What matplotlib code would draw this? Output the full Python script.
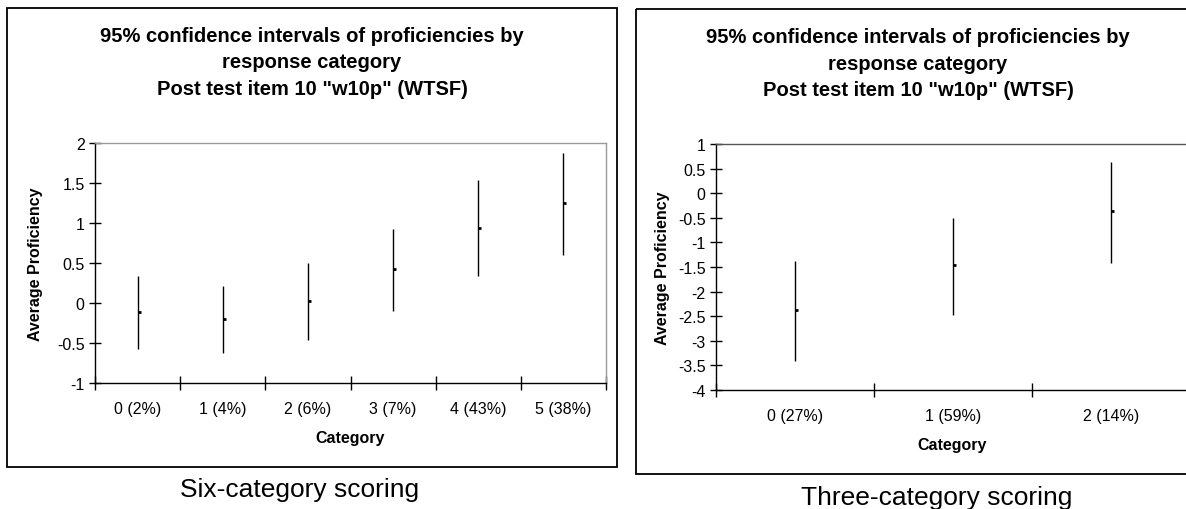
import matplotlib
matplotlib.use("Agg")
import matplotlib.pyplot as plt
from matplotlib.patches import Rectangle
from matplotlib.markers import TICKRIGHT
from matplotlib.ticker import FixedLocator, FuncFormatter

plt.rcParams['font.family'] = ['Liberation Sans', 'DejaVu Sans']
plt.rcParams['axes.unicode_minus'] = False

# Six-category scoring
six_labels = ["0 (2%)", "1 (4%)", "2 (6%)", "3 (7%)", "4 (43%)", "5 (38%)"]
six_high = [0.34, 0.21, 0.50, 0.92, 1.54, 1.875]
six_low = [-0.575, -0.625, -0.465, -0.10, 0.34, 0.60]
six_mean = [-0.115, -0.20, 0.025, 0.42, 0.94, 1.245]
six_yticks = [-1, -0.5, 0, 0.5, 1, 1.5, 2]

# Three-category scoring
three_labels = ["0 (27%)", "1 (59%)", "2 (14%)"]
three_high = [-1.375, -0.51, 0.64]
three_low = [-3.42, -2.47, -1.41]
three_mean = [-2.375, -1.46, -0.36]
three_yticks = [-4, -3.5, -3, -2.5, -2, -1.5, -1, -0.5, 0, 0.5, 1]

title = '95% confidence intervals of proficiencies by\nresponse category\nPost test item 10 "w10p" (WTSF)'

W, H = 1186, 510
fig = plt.figure(figsize=(W / 100, H / 100), dpi=100)

# full-figure overlay in pixel units for frames and free text
ov = fig.add_axes([0, 0, 1, 1], zorder=0)
ov.set_xlim(0, W)
ov.set_ylim(H, 0)
ov.axis("off")


def px_axes(x0, y0, x1, y1):
    return fig.add_axes([x0 / W, 1 - y1 / H, (x1 - x0) / W, (y1 - y0) / H], zorder=2)


def hilo_close(ax, labels, high, low, mean, yticks, top_color):
    n = len(labels)
    xs = [i + 0.5 for i in range(n)]
    ax.vlines(xs, low, high, color="black", lw=1.0)
    ax.plot(xs, mean, linestyle="none", marker=TICKRIGHT, ms=2.5, mew=2.0, color="black")
    ax.set_xlim(0, n)
    ax.set_ylim(min(yticks), max(yticks))
    ax.set_facecolor("none")
    ax.yaxis.set_major_locator(FixedLocator(yticks))
    ax.yaxis.set_major_formatter(FuncFormatter(lambda v, p: "%g" % v))
    ax.xaxis.set_major_locator(FixedLocator(list(range(n + 1))))
    ax.xaxis.set_minor_locator(FixedLocator(xs))
    ax.set_xticklabels([], minor=False)
    ax.set_xticklabels(labels, minor=True)
    ax.tick_params(axis="x", which="major", direction="inout", length=10, width=1, color="black")
    ax.tick_params(axis="x", which="minor", length=0, pad=13, labelsize=11.5)
    ax.tick_params(axis="y", direction="inout", length=9, width=1, pad=3, labelsize=11.5)
    for s in ("left", "bottom"):
        ax.spines[s].set_color("black")
        ax.spines[s].set_linewidth(1.0)
    for s in ("top", "right"):
        ax.spines[s].set_color(top_color)
        ax.spines[s].set_linewidth(1.0)


# left chart
ov.add_patch(Rectangle((7, 9), 610, 459, fill=False, ec="black", lw=1.3))
axL = px_axes(95, 144, 606, 384)
hilo_close(axL, six_labels, six_high, six_low, six_mean, six_yticks, "#9a9a9a")
ov.text(312, 63, title, ha="center", va="center", fontsize=14.5, fontweight="bold", linespacing=1.52)
ov.text(36, 264, "Average Proficiency", rotation=90, ha="center", va="center", fontsize=11.5, fontweight="bold")
ov.text(350.5, 439, "Category", ha="center", va="center", fontsize=11.5, fontweight="bold")
ov.text(300, 490, "Six-category scoring", ha="center", va="center", fontsize=19)

# right chart (runs past the right edge)
ov.add_patch(Rectangle((636, 10), 600, 465, fill=False, ec="black", lw=1.3))
axR = px_axes(716, 145, 1190, 391)
hilo_close(axR, three_labels, three_high, three_low, three_mean, three_yticks, "#555555")
ov.text(918, 64, title, ha="center", va="center", fontsize=14.5, fontweight="bold", linespacing=1.52)
ov.text(662, 268, "Average Proficiency", rotation=90, ha="center", va="center", fontsize=11.5, fontweight="bold")
ov.text(952, 446, "Category", ha="center", va="center", fontsize=11.5, fontweight="bold")
ov.text(937, 498, "Three-category scoring", ha="center", va="center", fontsize=19)

fig.savefig("out.png", dpi=100)
